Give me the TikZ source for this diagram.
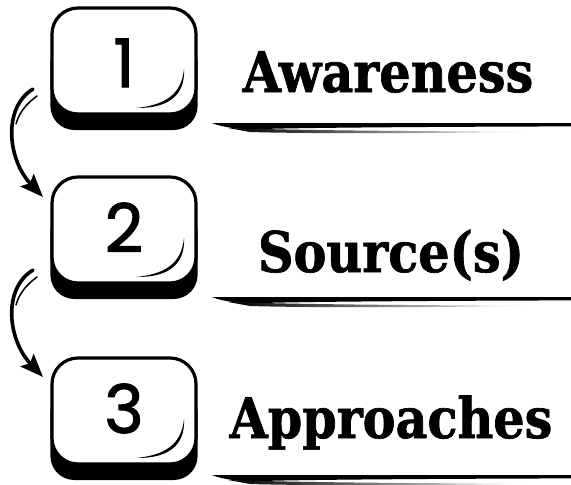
\documentclass[tikz,border=0pt]{standalone}
\usepackage{fontspec}
\newfontfamily\labelfont{DejaVu Serif}[FakeStretch=0.88, FakeBold=1.2]
\newfontfamily\digitfont{Poppins}[FakeBold=1.6]
\usetikzlibrary{arrows.meta}
\tikzset{
  keyshadow/.style={fill=black, rounded corners=24pt},
  keybody/.style={draw=black, fill=white, line width=3.2pt, rounded corners=26pt},
  keydigit/.style={font=\digitfont\fontsize{67}{67}\selectfont, anchor=base, inner sep=0pt},
  title/.style={font=\labelfont\bfseries\fontsize{56}{56}\selectfont, anchor=base, inner sep=0pt},
  flow/.style={line width=3.6pt, line cap=round,
    -{Stealth[length=23pt, width=18pt, inset=4pt]}},
  flowtail/.style={line width=1.5pt, line cap=round},
}
% one key cap: #1 name, #2 top edge, #3 digit, #4 digit baseline
\newcommand\keycap[4]{%
  \fill[keyshadow] (50.4,{#2+30}) rectangle (197.6,{#2+122});
  \draw[keybody] (52,#2) rectangle (196,{#2+106});
  \fill (184,{#2+61}) .. controls (185.5,{#2+89}) and (166,{#2+100.5}) .. (136,{#2+100})
        .. controls (166,{#2+97}) and (181.5,{#2+86}) .. cycle;
  \node[keydigit] (#1) at (124,#4) {#3};
}
% brush-stroke underline with its top edge at #1
\newcommand\brushline[1]{%
  \fill (212,#1) -- (571,#1) -- (571,{#1+3.4})
        .. controls (420,{#1+3.8}) and (280,{#1+4.8}) .. (250,{#1+6.5})
        .. controls (235,{#1+6}) and (220,{#1+3.5}) .. cycle;
  \shade[left color=black, right color=white]
        (228,{#1+5}) .. controls (300,{#1+7.5}) and (420,{#1+8.2}) .. (532,{#1+8.8})
        .. controls (420,{#1+10.6}) and (300,{#1+10.6}) .. (250,{#1+9}) -- cycle;
}
\begin{document}
\begin{tikzpicture}[x=1pt, y=-1pt]
  \useasboundingbox (0,0) rectangle (571,485);
  \fill[white] (0,0) rectangle (571,485);

  \keycap{k1}{8}{1}{87}
  \keycap{k2}{177}{2}{252}
  \keycap{k3}{358}{3}{433}

  \node[title] (aw) at (388,92) {Awareness};
  \node[title] (src) at (391,272) {Source(s)};
  \node[title] (app) at (391,438) {Approaches};

  \brushline{123}
  \brushline{297}
  \brushline{475}

  % curved arrows between the keys
  \coordinate (a1s) at (33,89);
  \coordinate (a1e) at (43,197);
  \coordinate (a1t) at (37,96);
  \draw[flow] (a1s) .. controls (2,108) and (8,160) .. (a1e);
  \draw[flowtail] (a1t) .. controls (26,104) and (19,113) .. (16,124);

  \coordinate (a2s) at (33,270);
  \coordinate (a2e) at (43,377);
  \coordinate (a2t) at (37,277);
  \draw[flow] (a2s) .. controls (2,289) and (8,340) .. (a2e);
  \draw[flowtail] (a2t) .. controls (26,285) and (19,294) .. (16,305);
\end{tikzpicture}
\end{document}
